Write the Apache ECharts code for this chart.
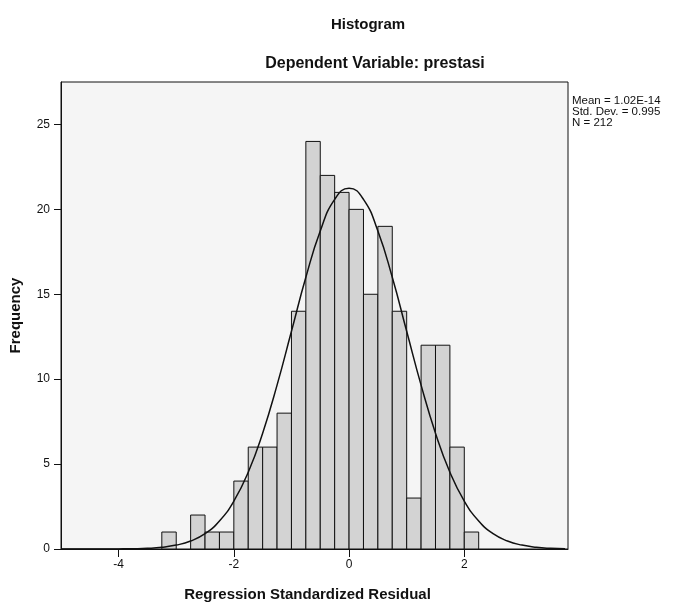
<!DOCTYPE html>
<html>
<head>
<meta charset="utf-8">
<script src="https://cdn.jsdelivr.net/npm/echarts@6/dist/echarts.min.js"></script>
<style>
html,body{margin:0;padding:0;background:#ffffff;}
#main{width:675px;height:608px;}
</style>
</head>
<body>
<div id="main"></div>
<script>
// Histogram bins (bin start edges, width 0.25) and frequencies
var binStart = [-3.25,-3.0,-2.75,-2.5,-2.25,-2.0,-1.75,-1.5,-1.25,-1.0,-0.75,-0.5,-0.25,0.0,0.25,0.5,0.75,1.0,1.25,1.5,1.75,2.0];
var binWidth = 0.25;
var counts = [1,0,2,1,1,4,6,6,8,14,24,22,21,20,15,19,14,3,12,12,6,1];

// Normal curve overlay
var curveX = [-5,-4.75,-4.5,-4.25,-4,-3.75,-3.5,-3.25,-3,-2.75,-2.5,-2.25,-2,-1.75,-1.5,-1.25,-1,-0.75,-0.5,-0.25,0,0.25,0.5,0.75,1,1.25,1.5,1.75,2,2.25,2.5,2.75,3,3.25,3.5,3.75];
var curveY = [0,0,0,0.002,0.007,0.017,0.04,0.10,0.23,0.47,0.90,1.65,2.82,4.52,6.82,9.65,12.82,16.0,18.72,20.59,21.25,20.59,18.72,16.0,12.82,9.65,6.82,4.52,2.82,1.65,0.90,0.47,0.23,0.10,0.04,0.017];

var xTicks = [-4,-2,0,2];
var yTicks = [0,5,10,15,20,25];

var statsLines = ['Mean = 1.02E-14','Std. Dev. = 0.995','N = 212'];

var FONT = "'Liberation Sans', Arial, Helvetica, sans-serif";

var barData = binStart.map(function(s,i){ return [s, s+binWidth, counts[i]]; }).filter(function(d){return d[2]>0;});
var lineData = curveX.map(function(x,i){ return [x, curveY[i]]; });

var chart = echarts.init(document.getElementById('main'), null, {renderer:'canvas'});
chart.setOption({
  animation:false,
  backgroundColor:'#ffffff',
  title:[
    {text:'Histogram', left:363, top:12, textAlign:'center',
     textStyle:{fontFamily:FONT, fontSize:15, fontWeight:'bold', color:'#111'}},
    {text:'Dependent Variable: prestasi', left:370, top:51, textAlign:'center',
     textStyle:{fontFamily:FONT, fontSize:16, fontWeight:'bold', color:'#111'}}
  ],
  grid:{left:60, right:107, top:82, bottom:59, show:true, borderColor:'#111', borderWidth:1, backgroundColor:'#f5f5f5'},
  xAxis:{
    type:'value', min:-5, max:3.8,
    name:'Regression Standardized Residual', nameLocation:'middle', nameGap:38,
    nameTextStyle:{fontFamily:FONT, fontSize:15, fontWeight:'bold', color:'#111', padding:[0,14,0,0]},
    axisLine:{show:true, onZero:false, lineStyle:{color:'#111', width:1}},
    axisTick:{show:true, inside:false, length:8, customValues:xTicks, lineStyle:{color:'#111'}},
    axisLabel:{customValues:xTicks, fontFamily:FONT, fontSize:12, color:'#111', margin:10},
    splitLine:{show:false}
  },
  yAxis:{
    type:'value', min:0, max:27.5,
    name:'Frequency', nameLocation:'middle', nameGap:38, nameRotate:90,
    nameTextStyle:{fontFamily:FONT, fontSize:15, fontWeight:'bold', color:'#111'},
    axisLine:{show:true, onZero:false, lineStyle:{color:'#111', width:1}},
    axisTick:{show:true, inside:false, length:7, customValues:yTicks, lineStyle:{color:'#111'}},
    axisLabel:{customValues:yTicks, fontFamily:FONT, fontSize:12, color:'#111', margin:11},
    splitLine:{show:false}
  },
  graphic:[
    {type:'text', left:572, top:95, style:{text:statsLines.join('\n'), font:'11.5px '+FONT, fill:'#111', lineHeight:11}}
  ],
  series:[
    {
      type:'custom',
      data:barData,
      encode:{x:[0,1], y:2},
      renderItem:function(params, api){
        var p0 = api.coord([api.value(0), api.value(2)]);
        var p1 = api.coord([api.value(1), 0]);
        return {type:'rect', shape:{x:p0[0], y:p0[1], width:p1[0]-p0[0], height:p1[1]-p0[1]},
          style:{fill:'#d3d3d3', stroke:'#111', lineWidth:1}};
      },
      z:2
    },
    {
      type:'line', data:lineData, smooth:true, showSymbol:false, symbol:'none',
      lineStyle:{color:'#111', width:1.5}, z:3
    }
  ]
});
</script>
</body>
</html>
